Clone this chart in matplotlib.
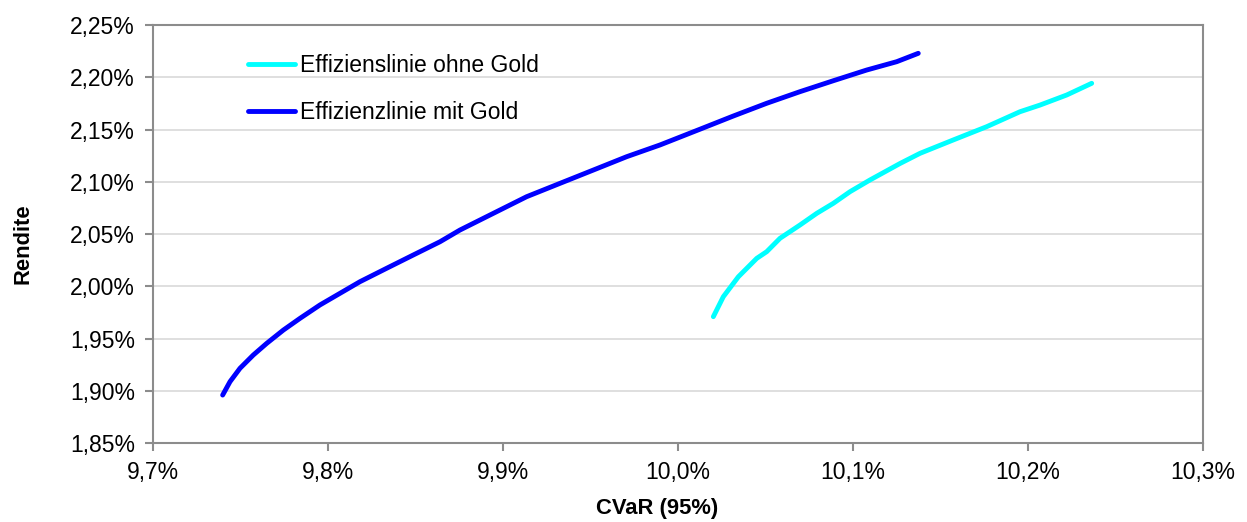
import matplotlib.pyplot as plt
from matplotlib.ticker import FuncFormatter, MultipleLocator

plt.rcParams['font.family'] = ['Liberation Sans', 'DejaVu Sans']
plt.rcParams['font.size'] = 16.5

# CVaR (95%) in % and Rendite in %
cvar_ohne = [10.0202, 10.0259, 10.0345, 10.0450, 10.0507, 10.0583, 10.0697,
             10.0793, 10.0888, 10.0983, 10.1097, 10.1269, 10.1383, 10.1573,
             10.1764, 10.1954, 10.2069, 10.2221, 10.2364]
rendite_ohne = [1.9709, 1.9900, 2.0091, 2.0267, 2.0331, 2.0459, 2.0586,
                2.0698, 2.0794, 2.0905, 2.1017, 2.1175, 2.1272, 2.1400,
                2.1527, 2.1670, 2.1734, 2.1830, 2.1942]

cvar_mit = [9.7398, 9.7440, 9.7497, 9.7573, 9.7650, 9.7745, 9.7840, 9.7954,
            9.8069, 9.8183, 9.8335, 9.8487, 9.8640, 9.8754, 9.8945, 9.9135,
            9.9326, 9.9516, 9.9707, 9.9897, 10.0126, 10.0316, 10.0507,
            10.0697, 10.0888, 10.1078, 10.1250, 10.1373]
rendite_mit = [1.8959, 1.9087, 1.9215, 1.9342, 1.9454, 1.9581, 1.9693, 1.9821,
               1.9933, 2.0044, 2.0172, 2.0299, 2.0426, 2.0538, 2.0698, 2.0857,
               2.0985, 2.1112, 2.1240, 2.1352, 2.1503, 2.1629, 2.1751,
               2.1862, 2.1967, 2.2069, 2.2149, 2.2229]

labels = ["Effizienslinie ohne Gold", "Effizienzlinie mit Gold"]

fig = plt.figure(figsize=(12.47, 5.22), dpi=100)
ax = fig.add_axes([0.1227, 0.1513, 0.842, 0.8008])

ax.plot(cvar_ohne, rendite_ohne, color='#00FFFF', lw=3.5,
        solid_capstyle='round', solid_joinstyle='round', label=labels[0])
ax.plot(cvar_mit, rendite_mit, color='#0000FF', lw=3.5,
        solid_capstyle='round', solid_joinstyle='round', label=labels[1])

ax.set_xlim(9.7, 10.3)
ax.set_ylim(1.85, 2.25)
ax.xaxis.set_major_locator(MultipleLocator(0.1))
ax.yaxis.set_major_locator(MultipleLocator(0.05))
ax.xaxis.set_major_formatter(FuncFormatter(lambda v, p: f"{v:.1f}%".replace('.', ',')))
ax.yaxis.set_major_formatter(FuncFormatter(lambda v, p: f"{v:.2f}%".replace('.', ',')))

ax.grid(axis='y', color='#d9d9d9', lw=1.2)
ax.set_axisbelow(True)
for s in ax.spines.values():
    s.set_color('#8c8c8c')
    s.set_linewidth(1.5)
ax.tick_params(direction='out', length=6, width=1.5, color='#8c8c8c',
               labelsize=16.5, pad=7)

ax.set_xlabel("CVaR (95%)", fontweight='bold', fontsize=15.8, labelpad=10)
ax.set_ylabel("Rendite", fontweight='bold', fontsize=15.8, labelpad=26)
ax.xaxis.label.set_x(0.48)
ax.yaxis.label.set_y(0.478)

ax.legend(loc='upper left', bbox_to_anchor=(0.0905, 0.93), frameon=False,
          borderaxespad=0, borderpad=0, handlelength=2.05, handletextpad=0.22,
          labelspacing=1.05, fontsize=16.5)

fig.savefig("out.png", dpi=100)
